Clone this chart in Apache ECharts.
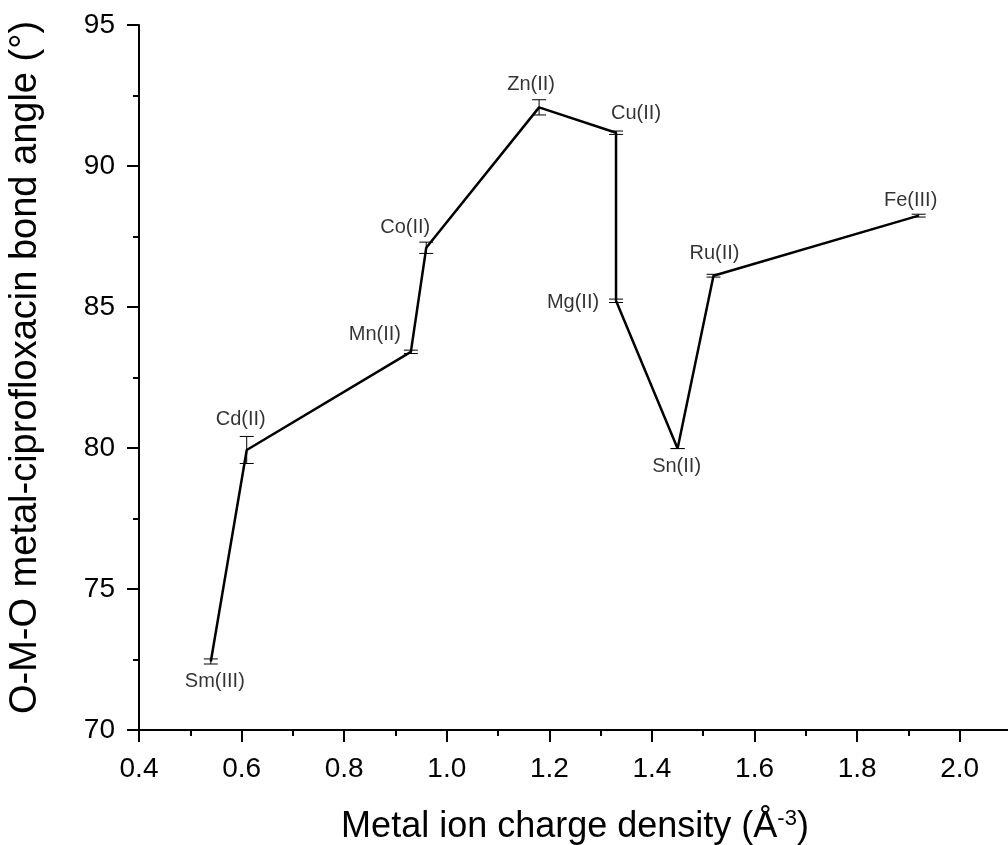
<!DOCTYPE html>
<html>
<head>
<meta charset="utf-8">
<script src="https://cdn.jsdelivr.net/npm/echarts@6/dist/echarts.min.js"></script>
<style>
  html, body { margin: 0; padding: 0; background: #fff; }
</style>
</head>
<body>
<div id="main" style="width:1008px; height:845px"></div>
<script>
// metal ions, charge density (Å^-3), bond angle (°), error
var metals = ['Sm(III)', 'Cd(II)', 'Mn(II)', 'Co(II)', 'Zn(II)', 'Cu(II)', 'Mg(II)', 'Sn(II)', 'Ru(II)', 'Fe(III)']
var density = [0.54, 0.61, 0.93, 0.96, 1.18, 1.33, 1.33, 1.45, 1.52, 1.92]
var angle = [72.43, 79.93, 83.41, 87.1, 92.08, 91.18, 85.22, 79.98, 86.11, 88.24]
var angleErr = [0.09, 0.48, 0.06, 0.2, 0.27, 0.06, 0.06, 0, 0.05, 0.05]

// label offset (px) from each point, by name
var labelShift = {
  'Sm(III)': [4, 20],
  'Cd(II)': [-6, -30],
  'Mn(II)': [-36, -17],
  'Co(II)': [-21, -20],
  'Zn(II)': [-8, -23],
  'Cu(II)': [20, -19],
  'Mg(II)': [-43, 2],
  'Sn(II)': [-1, 18],
  'Ru(II)': [1, -22],
  'Fe(III)': [-8, -15],
}

var font = 'Liberation Sans, Arial, sans-serif'

var lineData = density.map(function (x, i) { return [x, angle[i]] })
var errData = density.map(function (x, i) { return [x, angle[i] - angleErr[i], angle[i] + angleErr[i]] })
var labelData = metals.map(function (m, i) {
  return {
    value: [density[i], angle[i]],
    label: { offset: labelShift[m] },
  }
})

var option = {
  animation: false,
  grid: {
    left: 139,
    right: -3,
    top: 25,
    bottom: 115,
    containLabel: false,
    outerBoundsMode: 'none',
  },
  xAxis: {
    type: 'value',
    min: 0.4,
    max: 2.1,
    interval: 0.2,
    name: '{t|Metal ion charge density (Å}{s|-3}{t|)}',
    nameLocation: 'middle',
    nameGap: 78,
    nameTextStyle: {
      rich: {
        t: { fontFamily: font, fontSize: 36, color: '#000' },
        s: { fontFamily: font, fontSize: 22, color: '#000', verticalAlign: 'top', padding: [0, 0, 16, 0] },
      },
    },
    axisLine: { onZero: false, lineStyle: { color: '#000', width: 2 } },
    axisTick: { inside: false, length: 12, lineStyle: { color: '#000', width: 2 } },
    minorTick: { show: true, splitNumber: 2, length: 6, lineStyle: { color: '#000', width: 2 } },
    axisLabel: {
      margin: 25,
      fontFamily: font,
      fontSize: 28,
      color: '#000',
      showMaxLabel: false,
      formatter: function (v) { return v.toFixed(1) },
    },
    splitLine: { show: false },
    minorSplitLine: { show: false },
  },
  yAxis: {
    type: 'value',
    min: 70,
    max: 95,
    interval: 5,
    name: 'O-M-O metal-ciprofloxacin bond angle (°)',
    nameLocation: 'middle',
    nameGap: 94,
    nameTextStyle: { fontFamily: font, fontSize: 38, color: '#000', padding: [0, 0, 0, 20] },
    axisLine: { show: true, onZero: false, lineStyle: { color: '#000', width: 2 } },
    axisTick: { show: true, inside: false, length: 12, lineStyle: { color: '#000', width: 2 } },
    minorTick: { show: true, splitNumber: 2, length: 6, lineStyle: { color: '#000', width: 2 } },
    axisLabel: { margin: 24, fontFamily: font, fontSize: 28, color: '#000' },
    splitLine: { show: false },
    minorSplitLine: { show: false },
  },
  series: [
    {
      type: 'line',
      data: lineData,
      showSymbol: false,
      symbol: 'none',
      lineStyle: { color: '#000', width: 2.5 },
      z: 3,
    },
    {
      type: 'custom',
      data: errData,
      z: 4,
      renderItem: function (params, api) {
        var x = api.value(0)
        var lo = api.coord([x, api.value(1)])
        var hi = api.coord([x, api.value(2)])
        var w = 7
        var st = { stroke: '#000', lineWidth: 1 }
        return {
          type: 'group',
          children: [
            { type: 'line', shape: { x1: lo[0], y1: lo[1], x2: hi[0], y2: hi[1] }, style: st },
            { type: 'line', shape: { x1: lo[0] - w, y1: lo[1], x2: lo[0] + w, y2: lo[1] }, style: st },
            { type: 'line', shape: { x1: hi[0] - w, y1: hi[1], x2: hi[0] + w, y2: hi[1] }, style: st },
          ],
        }
      },
    },
    {
      type: 'scatter',
      data: labelData,
      symbolSize: 0,
      z: 5,
      label: {
        show: true,
        position: 'inside',
        fontFamily: font,
        fontSize: 20,
        color: '#000',
        textBorderWidth: 0,
        formatter: function (p) { return metals[p.dataIndex] },
      },
    },
  ],
}

var chartDom = document.getElementById('main')
var myChart = echarts.init(chartDom)
option && myChart.setOption(option)
</script>
</body>
</html>
